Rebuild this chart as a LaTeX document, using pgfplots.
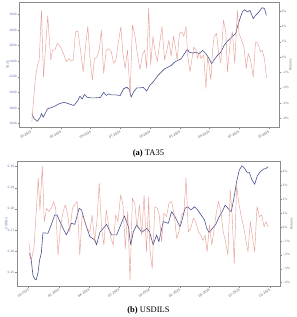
\documentclass[border=0pt]{standalone}
\usepackage{pgfplots}
\pgfplotsset{compat=1.18}
\usepackage{fontspec}
\setmainfont{Liberation Serif}
\newfontfamily\tickfont{DejaVu Sans}

\definecolor{pricecol}{RGB}{72,82,145}
\definecolor{retcol}{RGB}{226,150,140}
\definecolor{lefttick}{RGB}{95,120,175}
\definecolor{righttick}{RGB}{115,115,115}
\definecolor{framecol}{RGB}{140,140,140}

\pgfplotsset{
  base/.style={
    scale only axis, xmin=-35, xmax=762,
    axis line style={framecol, line width=0.4pt},
    tick style={framecol, line width=0.3pt},
    tick align=outside, major tick length=1.6pt,
    ticklabel style={font=\tickfont\fontsize{3}{3.5}\selectfont, inner sep=0.8pt},
    label style={font=\tickfont\fontsize{3.2}{3.6}\selectfont},
    /pgf/number format/assume math mode=true,
    xtick={0,92,183,274,366,458,548,639,731},
    xticklabels={10-2023,01-2024,04-2024,07-2024,10-2024,01-2025,04-2025,07-2025,10-2025},
    x tick label style={rotate=30, anchor=north east, text=black!70},
    xtick pos=bottom,
  },
  leftax/.style={base, ytick pos=left, y tick label style={text=lefttick}, ylabel style={text=lefttick}},
  rightax/.style={base, hide x axis, axis y line*=right, y tick label style={text=righttick}, ylabel style={text=righttick}},
  price/.style={pricecol, line width=0.6pt, line join=round},
  ret/.style={retcol, line width=0.45pt, opacity=0.9, line join=round},
}

\begin{document}
\begin{tikzpicture}
\useasboundingbox (0,0) rectangle (297pt,317pt);

% ---------------- (a) TA35 ----------------
\begin{axis}[leftax, at={(19.5pt,189.5pt)}, anchor=south west, width=259.5pt, height=125.5pt,
  ymin=1550, ymax=3158,
  ytick={1600,1800,2000,2200,2400,2600,2800,3000},
  yticklabels={1600,1800,2000,2200,2400,2600,2800,3000},
  ylabel={TA35}, ylabel shift=-4pt]
\addplot[price] coordinates {
(3.0,1729) (10.2,1661) (20.3,1630) (28.4,1681) (32.5,1729) (37.6,1681) (43.7,1729)
(50.8,1789) (61.0,1802) (71.1,1819) (86.4,1853) (101.6,1874) (116.8,1853) (132.1,1832)
(144.3,1896) (150.4,1951) (157.5,1917) (164.6,1973) (172.7,1938) (182.9,1930) (198.1,1930)
(213.4,1935) (223.5,2002) (231.6,1960) (238.8,1981) (246.9,1968) (259.1,1968) (274.3,1960)
(284.5,2046) (294.6,2067) (302.8,2033) (307.8,1938) (315.0,2002) (325.1,2058) (335.3,2058)
(345.4,2063) (355.6,2016) (364.9,2088) (375.0,2131) (390.3,2217) (400.4,2259) (410.6,2302)
(420.8,2323) (431.0,2345) (441.1,2388) (451.2,2409) (461.4,2431) (471.6,2495) (479.7,2547)
(486.8,2516) (497.0,2503) (507.1,2516) (517.3,2495) (527.4,2538) (537.6,2495) (547.8,2431)
(554.9,2367) (563.0,2418) (573.2,2474) (583.3,2516) (593.5,2602) (603.6,2657) (611.8,2688)
(618.9,2718) (629.0,2752) (634.1,2837) (642.2,2945) (649.4,3030) (656.5,3060) (664.6,3030)
(672.7,3051) (682.9,2945) (690.0,2987) (700.2,3030) (710.3,3086) (717.4,3073) (723.5,2987)
};
\end{axis}
\begin{axis}[rightax, at={(19.5pt,189.5pt)}, anchor=south west, width=259.5pt, height=125.5pt,
  ymin=-9.2, ymax=7.2,
  ytick={-8,-6,-4,-2,0,2,4,6},
  yticklabels={−8\%,−6\%,−4\%,−2\%,0\%,2\%,4\%,6\%},
  ylabel={Returns}, ylabel shift=-4pt]
\addplot[ret] coordinates {
(3.0,-8.4) (13.2,-3.0) (20.3,-1.0) (25.4,-0.4) (32.5,6.1) (38.6,-2.6) (51.8,5.4) (61.0,-0.4)
(66.0,0.9) (73.2,0.9) (81.3,1.8) (91.4,1.3) (101.6,0.3) (108.7,-0.6) (116.8,-0.2) (124.0,-0.5)
(130.0,-0.4) (137.2,3.3) (144.3,3.4) (152.4,0.9) (160.5,-1.9) (167.6,1.3) (174.8,4.0) (182.9,-0.8)
(189.0,-3.0) (195.1,-0.2) (203.2,0.0) (210.3,1.1) (216.4,3.5) (223.5,-2.1) (231.6,0.9) (238.8,1.1)
(246.9,0.7) (254.0,-0.8) (261.1,-0.4) (268.2,1.8) (276.4,4.0) (282.4,0.5) (289.6,-1.5) (296.7,0.9)
(304.8,-5.0) (311.9,4.2) (320.0,2.7) (327.2,0.3) (335.3,-1.6) (342.4,0.3) (349.5,0.9) (355.6,-1.5)
(361.7,6.4) (367.9,-1.0) (375.0,2.7) (382.2,0.5) (388.3,-0.6) (395.4,1.8) (402.5,4.0) (410.6,-0.4)
(417.7,0.9) (423.8,2.2) (430.9,0.1) (438.0,2.7) (444.1,1.3) (449.2,-0.4) (456.3,3.1) (463.4,3.3)
(469.5,2.7) (476.6,4.0) (481.7,0.1) (488.8,-1.9) (494.9,-0.2) (500.0,1.3) (507.1,0.9) (512.2,-0.2)
(517.3,0.7) (522.4,-0.2) (530.5,0.3) (537.6,-4.1) (542.7,0.1) (547.8,-1.3) (552.8,-3.0) (557.9,0.9)
(563.0,2.7) (570.1,3.1) (576.2,0.7) (583.3,-0.8) (591.4,4.8) (598.6,3.3) (603.6,-1.9) (611.8,1.8)
(618.9,3.3) (626.0,-0.8) (634.1,6.1) (639.2,3.1) (647.3,2.2) (654.4,1.3) (661.5,-1.5) (667.6,0.5)
(674.8,-0.4) (682.9,-2.6) (690.0,2.0) (697.1,1.8) (705.2,0.7) (710.3,0.9) (717.4,-0.2) (723.5,-2.7)
};
\end{axis}
\node[font=\fontsize{8.5}{10}\selectfont] at (148.5pt,164pt) {\textbf{(a)} TA35};

% ---------------- (b) USDILS ----------------
\begin{axis}[leftax, at={(17pt,31pt)}, anchor=south west, width=263pt, height=125pt,
  ymin=0.2436, ymax=0.3026,
  ytick={0.25,0.26,0.27,0.28,0.29,0.30},
  yticklabels={0.25,0.26,0.27,0.28,0.29,0.30},
  ylabel={USDILS}, ylabel shift=-4pt]
\addplot[price] coordinates {
(3.0,0.2590) (8.1,0.2559) (13.2,0.2488) (18.3,0.2470) (23.3,0.2465) (28.4,0.2496) (33.5,0.2559)
(38.6,0.2590) (43.6,0.2687) (58.9,0.2685) (70.0,0.2730) (79.2,0.2771) (86.3,0.2771) (104.5,0.2708)
(114.7,0.2677) (129.9,0.2732) (140.1,0.2727) (153.3,0.2803) (160.4,0.2795) (173.6,0.2724)
(185.7,0.2669) (201.0,0.2653) (206.0,0.2630) (216.2,0.2689) (236.5,0.2727) (251.7,0.2677)
(267.0,0.2677) (290.3,0.2767) (302.5,0.2716) (309.6,0.2630) (317.7,0.2693) (327.8,0.2724)
(343.1,0.2689) (358.3,0.2708) (366.4,0.2693) (377.7,0.2630) (387.9,0.2677) (395.0,0.2645)
(408.2,0.2740) (423.4,0.2732) (433.6,0.2787) (443.7,0.2763) (458.9,0.2716) (464.0,0.2740)
(474.2,0.2803) (482.3,0.2810) (492.4,0.2795) (502.6,0.2810) (512.7,0.2795) (522.9,0.2771)
(533.0,0.2748) (540.1,0.2708) (547.2,0.2689) (557.4,0.2708) (567.5,0.2727) (577.7,0.2763)
(587.8,0.2790) (596.0,0.2818) (606.1,0.2799) (614.2,0.2787) (622.3,0.2850) (630.5,0.2928)
(638.6,0.2983) (646.7,0.3004) (654.8,0.2991) (661.9,0.2972) (669.0,0.2972) (677.2,0.2936)
(685.3,0.2916) (693.4,0.2957) (702.5,0.2976) (712.7,0.2988) (719.8,0.2991) (725.9,0.2999)
};
\end{axis}
\begin{axis}[rightax, at={(17pt,31pt)}, anchor=south west, width=263pt, height=125pt,
  ymin=-4.25, ymax=4.76,
  ytick={-4,-3,-2,-1,0,1,2,3,4},
  yticklabels={−4\%,−3\%,−2\%,−1\%,0\%,1\%,2\%,3\%,4\%},
  ylabel={Returns}, ylabel shift=-4pt]
\addplot[ret] coordinates {
(1.0,-1.14) (8.1,-2.39) (16.2,-1.55) (23.3,1.11) (29.4,3.53) (34.5,1.23) (41.6,4.37) (47.7,0.39)
(54.8,1.35) (61.9,1.11) (69.0,1.35) (76.1,1.84) (82.2,1.35) (89.3,-2.03) (96.4,-0.10) (104.5,1.11)
(111.7,1.59) (118.8,0.87) (124.8,-0.34) (133.0,1.35) (140.1,1.59) (147.2,1.84) (155.3,-2.03)
(162.4,0.87) (170.5,0.39) (177.6,-0.10) (185.7,-0.34) (192.9,0.87) (200.0,-1.06) (207.1,0.39)
(214.2,3.16) (221.3,-0.10) (228.4,-1.30) (235.5,1.23) (242.6,0.14) (249.7,-0.82) (256.8,-1.30)
(263.9,0.87) (271.0,0.39) (279.1,2.32) (286.2,1.59) (293.3,-1.55) (300.4,1.11) (307.6,-3.85)
(314.7,2.08) (321.8,1.71) (328.9,-0.10) (336.0,1.59) (343.1,-0.58) (350.2,2.32) (357.3,-1.79)
(364.4,2.20) (367.6,-1.55) (374.7,-3.00) (382.8,1.47) (389.9,1.35) (396.0,0.87) (403.1,-1.06)
(410.2,0.99) (418.3,0.75) (425.4,1.71) (433.6,1.84) (441.7,0.87) (448.8,-0.82) (455.9,-0.34)
(464.0,0.87) (471.1,1.11) (477.2,3.53) (484.3,-0.34) (491.4,-0.10) (499.5,0.63) (506.6,0.39)
(514.8,-0.34) (521.9,-0.58) (528.0,-0.94) (535.1,-0.58) (541.1,-1.79) (548.2,0.14) (555.4,-1.30)
(562.5,-0.10) (569.6,1.11) (575.7,1.84) (582.8,1.11) (589.9,-0.34) (597.0,-1.06) (604.1,-2.03)
(611.2,2.68) (616.3,1.11) (623.4,-2.63) (630.5,3.04) (636.5,1.84) (643.7,0.87) (650.8,0.14)
(657.9,-0.82) (665.0,-1.79) (672.1,0.39) (679.2,-0.82) (685.3,-1.79) (692.4,1.47) (699.5,0.75)
(706.6,0.87) (713.7,0.02) (719.8,0.39) (725.9,0.02)
};
\end{axis}
\node[font=\fontsize{8.5}{10}\selectfont] at (148.5pt,7pt) {\textbf{(b)} USDILS};
\end{tikzpicture}
\end{document}
